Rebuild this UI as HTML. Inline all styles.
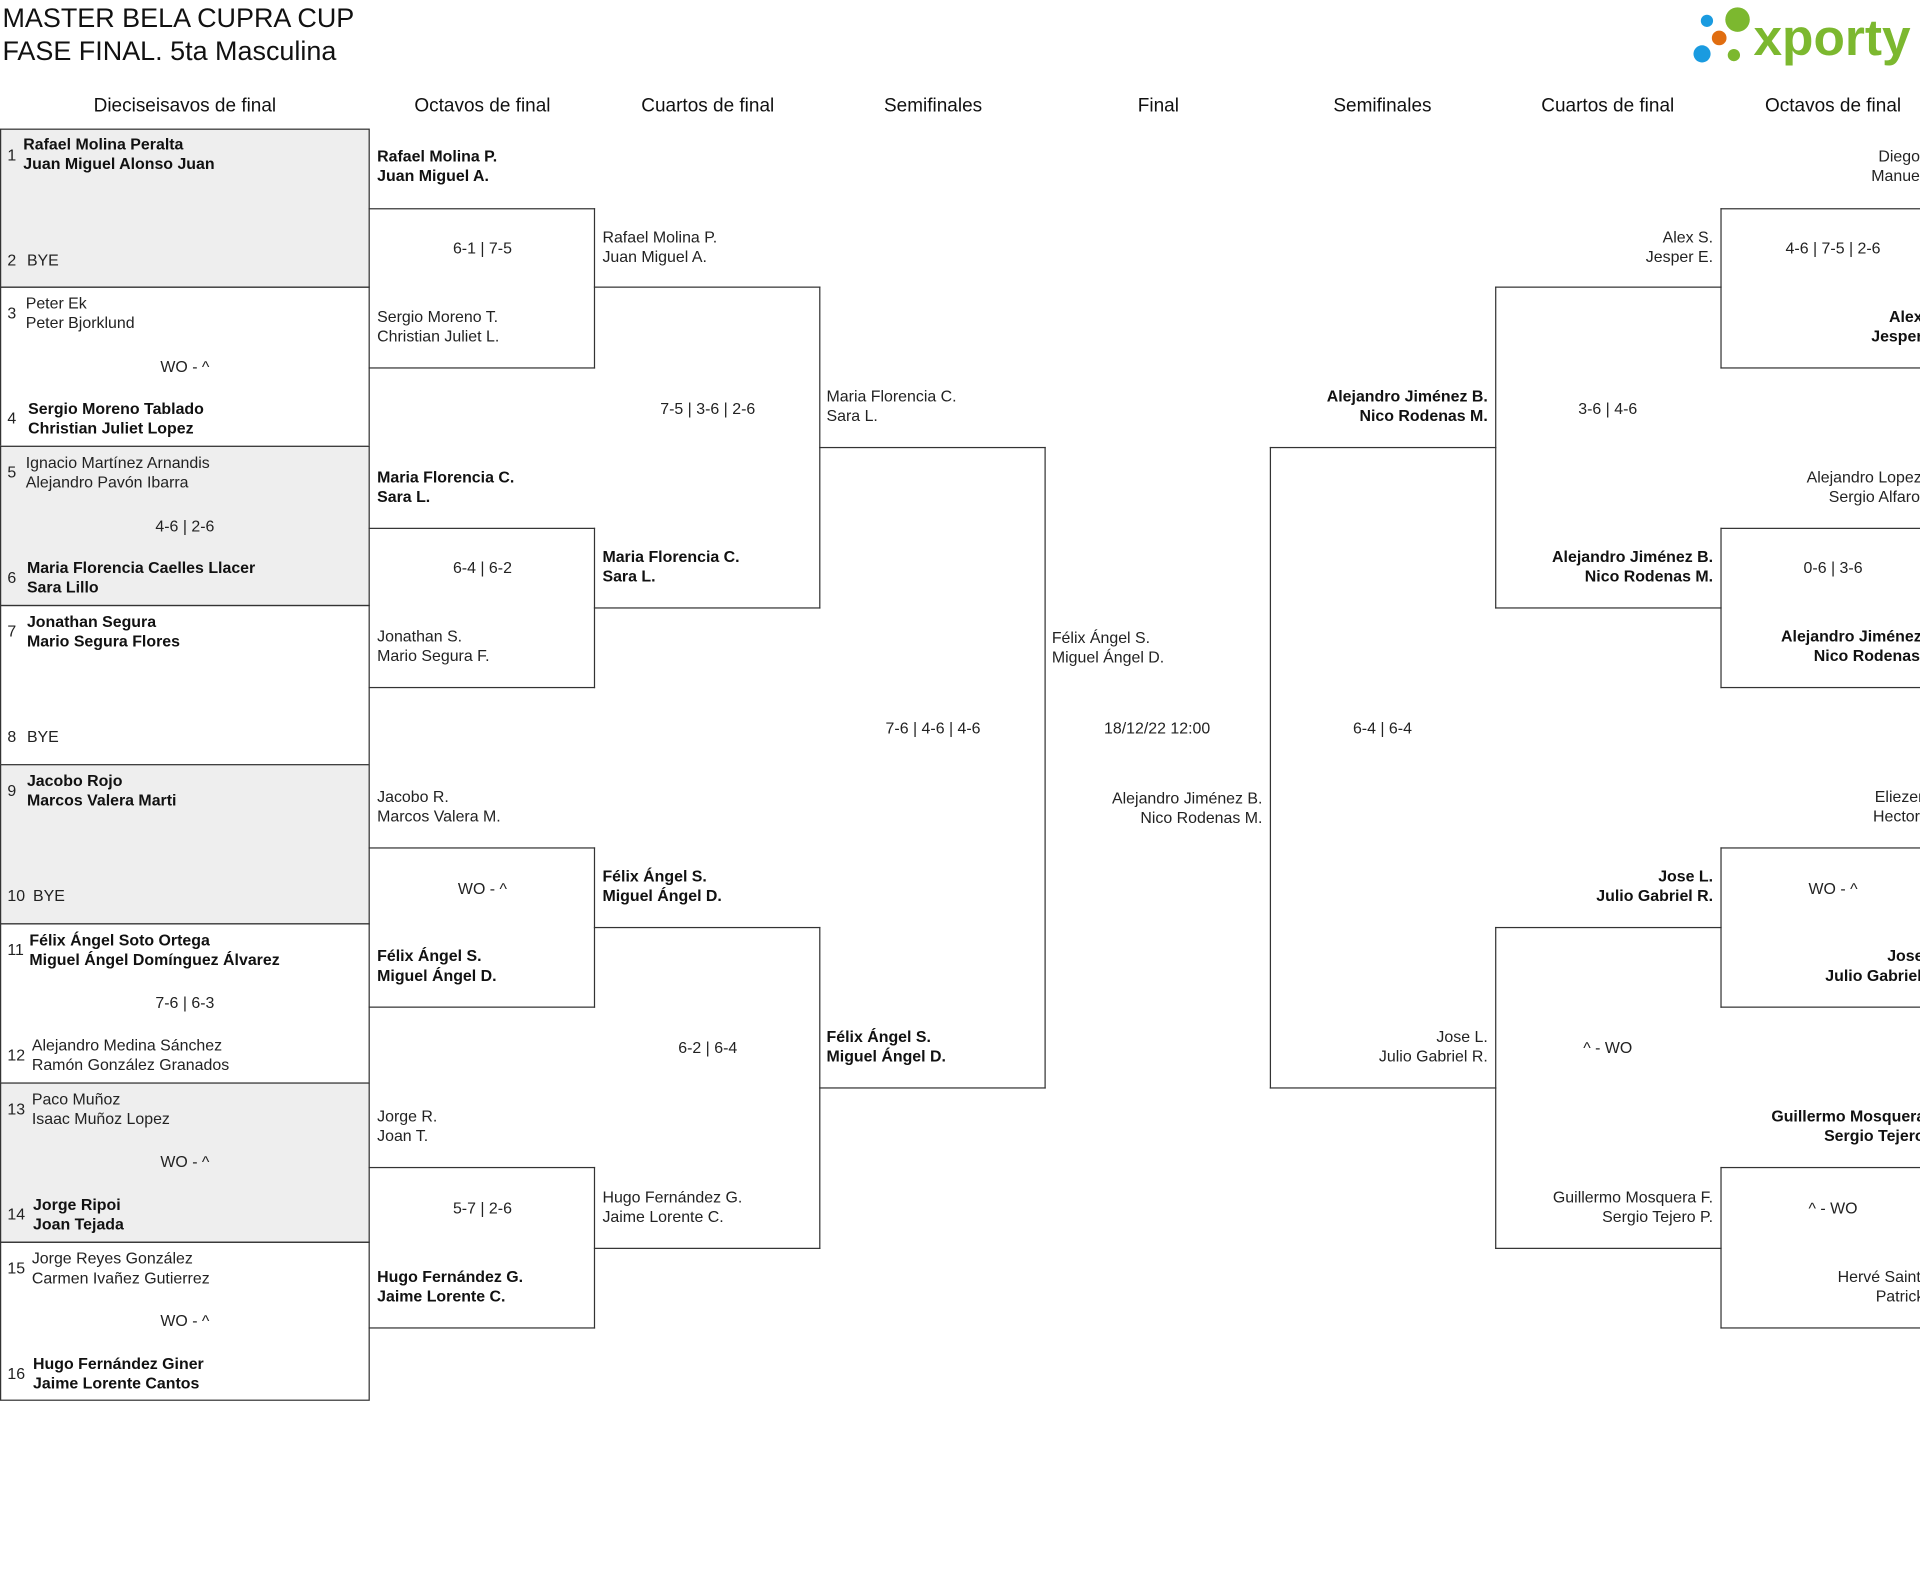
<!DOCTYPE html>
<html><head><meta charset="utf-8">
<style>
html,body{margin:0;padding:0;width:1920px;height:1572px;overflow:hidden;background:#fff}
#c{position:absolute;left:0;top:0;width:1568px;height:1284px;transform:scale(1.22449);transform-origin:0 0;font-family:"Liberation Sans",sans-serif;color:#222;overflow:hidden}
.a{position:absolute;font-size:13px;line-height:15.5px;white-space:nowrap}
.b{font-weight:bold;color:#111}
.r{text-align:right}
.ctr{text-align:center;width:184px}
.box{position:absolute;border:1px solid #333;box-sizing:border-box}
.L{border-left:none}
.R{border-right:none}
.h{position:absolute;top:78px;font-size:15.5px;text-align:center;width:240px;color:#111}
.t{position:absolute;left:2px;font-size:22px;line-height:27px;color:#111}
.n{position:absolute;font-size:13px;left:6px}
</style></head><body><div id="c">
<div class="t" style="top:1px">MASTER BELA CUPRA CUP<br>FASE FINAL. 5ta Masculina</div>
<svg style="position:absolute;left:1378px;top:0" width="190" height="60">
<circle cx="16" cy="17" r="5" fill="#1a9be0"/><circle cx="41" cy="16" r="10" fill="#7cb82f"/><circle cx="26" cy="31" r="6" fill="#e06d10"/><circle cx="12" cy="44" r="7" fill="#1a9be0"/><circle cx="38" cy="45" r="5" fill="#7cb82f"/>
<text x="54" y="45" font-family="Liberation Sans,sans-serif" font-weight="bold" font-size="42" fill="#7cb82f">xporty</text></svg>
<div class="h" style="left:31px">Dieciseisavos de final</div>
<div class="h" style="left:274px">Octavos de final</div>
<div class="h" style="left:458px">Cuartos de final</div>
<div class="h" style="left:642px">Semifinales</div>
<div class="h" style="left:826px">Final</div>
<div class="h" style="left:1009px">Semifinales</div>
<div class="h" style="left:1193px">Cuartos de final</div>
<div class="h" style="left:1377px">Octavos de final</div>

<div class="box" style="left:0;top:105px;width:302px;height:130px;background:#eee"></div>
<div class="box" style="left:0;top:234px;width:302px;height:131px"></div>
<div class="box" style="left:0;top:364px;width:302px;height:131px;background:#eee"></div>
<div class="box" style="left:0;top:494px;width:302px;height:131px"></div>
<div class="box" style="left:0;top:624px;width:302px;height:131px;background:#eee"></div>
<div class="box" style="left:0;top:754px;width:302px;height:131px"></div>
<div class="box" style="left:0;top:884px;width:302px;height:131px;background:#eee"></div>
<div class="box" style="left:0;top:1014px;width:302px;height:130px"></div>

<div class="n" style="top:119px">1</div><div class="a b" style="left:19px;top:110px">Rafael Molina Peralta<br>Juan Miguel Alonso Juan</div>
<div class="n" style="top:205px">2</div><div class="a" style="left:22px;top:205px">BYE</div>
<div class="n" style="top:248px">3</div><div class="a" style="left:21px;top:240px">Peter Ek<br>Peter Bjorklund</div>
<div class="a ctr" style="left:59px;top:292px">WO - ^</div>
<div class="n" style="top:334px">4</div><div class="a b" style="left:23px;top:326px">Sergio Moreno Tablado<br>Christian Juliet Lopez</div>
<div class="n" style="top:378px">5</div><div class="a" style="left:21px;top:370px">Ignacio Martínez Arnandis<br>Alejandro Pavón Ibarra</div>
<div class="a ctr" style="left:59px;top:422px">4-6 | 2-6</div>
<div class="n" style="top:464px">6</div><div class="a b" style="left:22px;top:456px">Maria Florencia Caelles Llacer<br>Sara Lillo</div>
<div class="n" style="top:508px">7</div><div class="a b" style="left:22px;top:500px">Jonathan Segura<br>Mario Segura Flores</div>
<div class="n" style="top:594px">8</div><div class="a" style="left:22px;top:594px">BYE</div>
<div class="n" style="top:638px">9</div><div class="a b" style="left:22px;top:630px">Jacobo Rojo<br>Marcos Valera Marti</div>
<div class="n" style="top:724px">10</div><div class="a" style="left:27px;top:724px">BYE</div>
<div class="n" style="top:768px">11</div><div class="a b" style="left:24px;top:760px">Félix Ángel Soto Ortega<br>Miguel Ángel Domínguez Álvarez</div>
<div class="a ctr" style="left:59px;top:811px">7-6 | 6-3</div>
<div class="n" style="top:854px">12</div><div class="a" style="left:26px;top:846px">Alejandro Medina Sánchez<br>Ramón González Granados</div>
<div class="n" style="top:898px">13</div><div class="a" style="left:26px;top:890px">Paco Muñoz<br>Isaac Muñoz Lopez</div>
<div class="a ctr" style="left:59px;top:941px">WO - ^</div>
<div class="n" style="top:984px">14</div><div class="a b" style="left:27px;top:976px">Jorge Ripoi<br>Joan Tejada</div>
<div class="n" style="top:1028px">15</div><div class="a" style="left:26px;top:1020px">Jorge Reyes González<br>Carmen Ivañez Gutierrez</div>
<div class="a ctr" style="left:59px;top:1071px">WO - ^</div>
<div class="n" style="top:1114px">16</div><div class="a b" style="left:27px;top:1106px">Hugo Fernández Giner<br>Jaime Lorente Cantos</div>

<div class="box L" style="left:301px;top:170px;width:185px;height:131px"></div>
<div class="box L" style="left:301px;top:431px;width:185px;height:131px"></div>
<div class="box L" style="left:301px;top:692px;width:185px;height:131px"></div>
<div class="box L" style="left:301px;top:953px;width:185px;height:132px"></div>
<div class="a b" style="left:308px;top:120px">Rafael Molina P.<br>Juan Miguel A.</div>
<div class="a ctr" style="left:302px;top:195px">6-1 | 7-5</div>
<div class="a" style="left:308px;top:251px">Sergio Moreno T.<br>Christian Juliet L.</div>
<div class="a b" style="left:308px;top:382px">Maria Florencia C.<br>Sara L.</div>
<div class="a ctr" style="left:302px;top:456px">6-4 | 6-2</div>
<div class="a" style="left:308px;top:512px">Jonathan S.<br>Mario Segura F.</div>
<div class="a" style="left:308px;top:643px">Jacobo R.<br>Marcos Valera M.</div>
<div class="a ctr" style="left:302px;top:718px">WO - ^</div>
<div class="a b" style="left:308px;top:773px">Félix Ángel S.<br>Miguel Ángel D.</div>
<div class="a" style="left:308px;top:904px">Jorge R.<br>Joan T.</div>
<div class="a ctr" style="left:302px;top:979px">5-7 | 2-6</div>
<div class="a b" style="left:308px;top:1035px">Hugo Fernández G.<br>Jaime Lorente C.</div>

<div class="box L" style="left:485px;top:234px;width:185px;height:263px"></div>
<div class="box L" style="left:485px;top:757px;width:185px;height:263px"></div>
<div class="a" style="left:492px;top:186px">Rafael Molina P.<br>Juan Miguel A.</div>
<div class="a ctr" style="left:486px;top:326px">7-5 | 3-6 | 2-6</div>
<div class="a b" style="left:492px;top:447px">Maria Florencia C.<br>Sara L.</div>
<div class="a b" style="left:492px;top:708px">Félix Ángel S.<br>Miguel Ángel D.</div>
<div class="a ctr" style="left:486px;top:848px">6-2 | 6-4</div>
<div class="a" style="left:492px;top:970px">Hugo Fernández G.<br>Jaime Lorente C.</div>

<div class="box L" style="left:669px;top:365px;width:185px;height:524px"></div>
<div class="a" style="left:675px;top:316px">Maria Florencia C.<br>Sara L.</div>
<div class="a ctr" style="left:670px;top:587px">7-6 | 4-6 | 4-6</div>
<div class="a b" style="left:675px;top:839px">Félix Ángel S.<br>Miguel Ángel D.</div>

<div class="a" style="left:859px;top:513px">Félix Ángel S.<br>Miguel Ángel D.</div>
<div class="a ctr" style="left:853px;top:587px">18/12/22 12:00</div>
<div class="a r" style="right:537px;top:644px">Alejandro Jiménez B.<br>Nico Rodenas M.</div>

<div class="box R" style="left:1037px;top:365px;width:185px;height:524px"></div>
<div class="a b r" style="right:353px;top:316px">Alejandro Jiménez B.<br>Nico Rodenas M.</div>
<div class="a ctr" style="left:1037px;top:587px">6-4 | 6-4</div>
<div class="a r" style="right:353px;top:839px">Jose L.<br>Julio Gabriel R.</div>

<div class="box R" style="left:1221px;top:234px;width:185px;height:263px"></div>
<div class="box R" style="left:1221px;top:757px;width:185px;height:263px"></div>
<div class="a r" style="right:169px;top:186px">Alex S.<br>Jesper E.</div>
<div class="a ctr" style="left:1221px;top:326px">3-6 | 4-6</div>
<div class="a b r" style="right:169px;top:447px">Alejandro Jiménez B.<br>Nico Rodenas M.</div>
<div class="a b r" style="right:169px;top:708px">Jose L.<br>Julio Gabriel R.</div>
<div class="a ctr" style="left:1221px;top:848px">^ - WO</div>
<div class="a r" style="right:169px;top:970px">Guillermo Mosquera F.<br>Sergio Tejero P.</div>

<div class="box R" style="left:1405px;top:170px;width:185px;height:131px"></div>
<div class="box R" style="left:1405px;top:431px;width:185px;height:131px"></div>
<div class="box R" style="left:1405px;top:692px;width:185px;height:131px"></div>
<div class="box R" style="left:1405px;top:953px;width:185px;height:132px"></div>
<div class="a r" style="right:-18px;top:120px">Diego M.<br>Manuel A.</div>
<div class="a ctr" style="left:1405px;top:195px">4-6 | 7-5 | 2-6</div>
<div class="a b r" style="right:-18px;top:251px">Alex S.<br>Jesper E.</div>
<div class="a r" style="right:-18px;top:382px">Alejandro Lopez R.<br>Sergio Alfaro M.</div>
<div class="a ctr" style="left:1405px;top:456px">0-6 | 3-6</div>
<div class="a b r" style="right:-18px;top:512px">Alejandro Jiménez B.<br>Nico Rodenas M.</div>
<div class="a r" style="right:-18px;top:643px">Eliezer A.<br>Hector M.</div>
<div class="a ctr" style="left:1405px;top:718px">WO - ^</div>
<div class="a b r" style="right:-18px;top:773px">Jose L.<br>Julio Gabriel R.</div>
<div class="a b r" style="right:-18px;top:904px">Guillermo Mosquera F.<br>Sergio Tejero P.</div>
<div class="a ctr" style="left:1405px;top:979px">^ - WO</div>
<div class="a r" style="right:-18px;top:1035px">Hervé Saint G.<br>Patrick L.</div>
</div></body></html>
